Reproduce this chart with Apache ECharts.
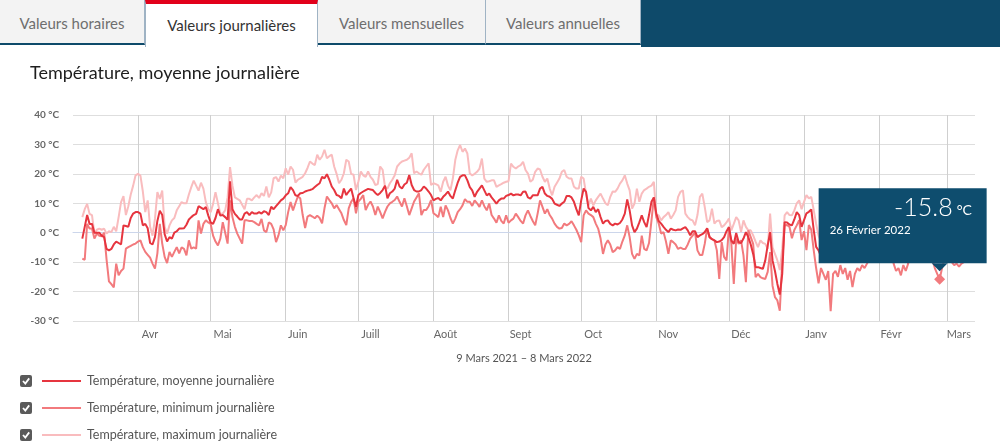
<!DOCTYPE html>
<html>
<head>
<meta charset="utf-8">
<script src="https://cdn.jsdelivr.net/npm/echarts@6/dist/echarts.min.js"></script>
<style>
  html, body { margin: 0; padding: 0; background: #fff; }
  #wrap { position: relative; width: 1000px; height: 448px; overflow: hidden; font-family: Lato, "Noto Sans", sans-serif; }
  #chart { position: absolute; left: 0; top: 0; width: 1000px; height: 448px; }
  .tab { position: absolute; top: 0; height: 45px; line-height: 46px; background: #f3f3f3; color: #6e6e6e;
         font-size: 15px; text-align: center; box-sizing: border-box; border-right: 1px solid #9fb3c4;
         border-bottom: 2px solid #0e4a6a; z-index: 2; }
  .tab.active { background: #fff; color: #333; border-top: 4px solid #e2001a; border-bottom: none; height: 47px; line-height: 42px;
         border-left: 1px solid #9fb3c4; }
  .bar { position: absolute; top: 0; height: 47px; background: #0e4a6a; z-index: 2; }
</style>
</head>
<body>
<div id="wrap">
  <div id="chart"></div>
  <div class="tab" style="left:0;width:145px;">Valeurs horaires</div>
  <div class="tab active" style="left:145px;width:173px;">Valeurs journalières</div>
  <div class="tab" style="left:318px;width:168px;">Valeurs mensuelles</div>
  <div class="tab" style="left:486px;width:155px;">Valeurs annuelles</div>
  <div class="bar" style="left:641px;width:359px;"></div>
</div>
<script>
// ---------- data ----------
const startDate = [2021, 2, 9];            // 9 Mars 2021 (day index 0)
const rangeLabel = '9 Mars 2021 – 8 Mars 2022';
const chartTitle = 'Température, moyenne journalière';
const monthTicks = [23, 53, 84, 114, 145, 176, 206, 237, 267, 298, 329, 357];
const monthLabels = ['Avr', 'Mai', 'Juin', 'Juill', 'Août', 'Sept', 'Oct', 'Nov', 'Déc', 'Janv', 'Févr', 'Mars'];
const frMonths = ['Janvier', 'Février', 'Mars', 'Avril', 'Mai', 'Juin', 'Juillet', 'Août', 'Septembre', 'Octobre', 'Novembre', 'Décembre'];
const seriesNames = ['Température, moyenne journalière', 'Température, minimum journalière', 'Température, maximum journalière'];
const highlightIndex = 354;   // 26 Février 2022, minimum series

const meanT = [
  -2, 2, 6, 3, 3, 0, 0, 0, -1, -1.5,
  -5.5, -6, -5.5, -4, -3, -3.5, -4, 2.5, 2.3, 2,
  5, 6.5, 7, 7, 6.5, 2.5, 3, 1.5, -3.5, -4,
  -1.5, 4, 7.5, 6, -0.5, -3, -1.5, -2, 0, 0.5,
  1.4, 1.4, 1.5, 2.7, 4.5, 5.3, 6, 6.4, 9, 8.5,
  8, 8.7, 5.9, 3.5, 3, 5, 8, 5.8, 6, 5.3,
  4.4, 17.5, 8, 6.4, 5.5, 4.5, 4.5, 6.5, 7, 6,
  7, 6.5, 6.5, 7, 6.5, 7.3, 7, 6, 8.8, 8,
  9, 10, 11, 11.6, 12.7, 13.4, 15.5, 14.5, 12.7, 12.5,
  13.4, 13.5, 14, 14.3, 14.5, 14.8, 15.5, 16.2, 16.8, 19,
  18.5, 19.9, 18, 15.7, 14.5, 12.8, 12.5, 11.7, 15, 12.8,
  14, 15, 11.7, 8.8, 12.8, 13.5, 14, 14.5, 14.9, 14.7,
  14.5, 13.5, 12.8, 13.5, 14.5, 16, 11.7, 13.4, 14, 15,
  18, 15.7, 15, 16.4, 17, 19.6, 16.2, 14.5, 14, 14,
  14.5, 15.7, 15, 14, 12.8, 11, 11.5, 11.8, 11, 12.2,
  13, 14, 12.5, 11.6, 14.4, 17, 19, 19.5, 19.5, 17.8,
  15.5, 14.4, 12.2, 13.9, 15, 16.1, 14.4, 12.7, 13.3, 12,
  11, 9.9, 11, 11.6, 11.6, 12.5, 12.8, 13.3, 12.7, 13,
  13, 12.7, 13.9, 14, 12, 11.6, 12.7, 12.7, 12.7, 15,
  15.6, 13.3, 12.5, 12.2, 11.5, 9.9, 9.5, 9.1, 9.9, 10.5,
  12.5, 12.5, 12, 10.5, 8, 5.9, 11, 15, 13.9, 8.4,
  7.6, 8.8, 7, 8, 5.3, 3.1, 4, 4.2, 3, 2.5,
  3.1, 2.8, 3.3, 4.5, 6.5, 11.3, 7.6, 2.5, 0.2, 1.4,
  3.5, 5.9, 3.6, 1.9, 6, 10.5, 12, 6.5, 4, 3.1,
  2, 1, 0.2, 1.4, 1, 0.8, 1.1, 1, 1.5, 1.9,
  0.8, -0.9, 0.5, 0.5, -1.5, -0.9, -0.5, 0.2, 1.5, -1.5,
  -2.2, -2.6, -3.2, -3, -2.5, -1.5, 0.5, 1.9, -2.6, -3.8,
  -0.1, -3.2, -3.5, -2, 0.2, -1.5, -4, -7.2, -11.7, -11.7,
  -12, -12.3, -9.4, -4.3, 0.2, -9.4, -13, -17.4, -21, -14,
  3.6, 3.5, 2.8, 2.5, 4.5, 7, 6, 2, 4.3, 6.6,
  7.1, 7.9, 1, -4.8, -6, -8, -5, -7, -8, -9,
  -6, -4, -6, -8, -5, -3, -5, -7, -6, -8,
  -9, -6, -4, -5, -3, -2, -4, -5, -3, -1,
  -2, -4, -3, -1, -3, -6, -7, -5, -6, -8,
  -7, -4, -2, -3, -1, 0, -2, -4, -3, -5,
  -6, -4, -7, -9, -9.5, -7, -5, -4, -6, -5,
  -3, -4, -6, -5, -4
];

const minT = [
  -8.8, -9.2, 3, 1.4, 1.4, -2, -0.3, -1, -1.2, 0,
  -9, -16.5, -17.5, -18.6, -10.5, -14.5, -13, -12.2, -5.4, -4.9,
  -4.5, -4, -3.7, -3, -2.6, -4.9, -6.5, -7.5, -8.5, -10.5,
  -12.2, -7, 3, -3.7, -8.2, -10.3, -6.5, -8.2, -6.5, -4.9,
  -7, -5, -5.5, -7.7, -2.6, -5.4, -5, -5.4, 4.2, -0.3,
  3, 4.2, 3.5, 3, -1, -3, -4.3, -2, 3.6, 0,
  -3.7, 11, 5.3, 2, -0.3, -2, -3.7, 4.2, 4.2, 4,
  4, 3.6, 3, 2.5, 4.7, 0.8, 0.2, 3.5, 3, 1.1,
  -3.2, -0.9, 2.5, 0.8, 2.6, 7, 10.4, 7.6, 10, 12.3,
  11.7, 6, 1.6, 5.5, 6, 5.5, 4.9, 5.8, 5, 3.2,
  8.3, 12.3, 11.1, 10, 8.3, 9.4, 8, 6.6, 4.3, 2.6,
  8.3, 10.5, 11.7, 6.6, 10.6, 11.5, 12.8, 7.7, 9.5, 10.6,
  8.9, 6, 8.9, 7, 4.9, 7.1, 8.9, 10, 10.5, 11.1,
  12.3, 10.5, 8.9, 11.7, 9, 6, 8.3, 10.6, 12, 13.4,
  6, 7.7, 7.7, 9, 11.1, 6.6, 6, 5.3, 8.8, 5.3,
  9.3, 7.6, 5, 3.1, 4.8, 7, 8, 9.3, 11.4, 10.5,
  10.5, 9.1, 11, 10, 8.8, 11, 9, 7.6, 9.9, 6,
  4.8, 3.4, 5.9, 4, 3.1, 5.9, 3.4, 4.2, 4.8, 6.5,
  5.3, 4, 3.1, 5.9, 7.6, 5.7, 4, 2.5, 6.5, 11,
  8.8, 6.5, 8, 6, 4.8, 3.1, 2, 1.4, 1.6, 3.1,
  2.5, 3, 3.9, 2.5, 1, -0.9, -3.2, 5.9, 7.6, 6.5,
  6, 5.3, 3.1, 1.4, -2, -7.2, -4, -2.6, -4, -6.6,
  -6, -4.9, -5.5, -3, -0.9, 2.5, -1.5, -7.2, -8.9, -7.2,
  -7.7, -1, -5.5, -6, -3.5, 4, 12, 5.3, 3.1, -0.3,
  0.2, -3, -7.2, -2.6, -3.2, -4, -5.5, -5.1, -5.5, -5.5,
  -4, -2, -1, 0.2, -6, -7.6, -7.6, -3.8, 1.4, -1.5,
  -2.2, -2.6, -6, -15.7, -3.2, -8.2, -9.4, 1.9, -3.8, -17.4,
  -2, -3.8, -2.6, -7.7, -16.8, 0.8, -1.5, -3.8, -15.1, -14,
  -15.1, -15.5, -15.7, -13.3, -6.6, -18, -21.9, -23, -26.5, -10,
  2.5, 2.6, 2, -1.9, 0.9, 2.5, 4.3, -2.5, 0.5, -5.9,
  2.6, 1, -5.9, -12, -17.2, -12, -14, -16, -13, -26.7,
  -14, -13, -15, -11, -14, -12, -16, -13, -18.5, -14,
  -12, -13, -11, -12, -10.5, -9, -8, -7, -9, -7,
  -8, -6, -5, -4, -7, -10.5, -13, -12, -14.5, -11,
  -13, -10.5, -7, -6, -5, -4, -6, -8, -7, -9,
  -8, -9, -12, -14, -15.8, -12, -9, -8, -9, -10,
  -11, -10.5, -11.5, -10.5, -10
];

const maxT = [
  5.3, 8, 9.8, 6.4, 6, -0.3, 1, 1.4, 1, 1.4,
  -0.3, 0.5, 0.2, 2, 0.5, 5.3, 10.4, 12.4, 6, 9,
  13, 16, 19.5, 20, 19.4, 14, 7, 11, 2, -1,
  4.7, 13.8, 11.5, 14.3, 2, -0.3, 2.5, 4.2, 5, 7.6,
  9, 10.4, 10, 10, 13, 15.5, 17.7, 16, 14.3, 17,
  15, 10.4, 8, 7, 9.8, 13.8, 10, 6.4, 6.5, 7.6,
  12, 22.3, 16, 12, 11.5, 11, 9.5, 8, 11.5, 11.5,
  11, 12, 12.8, 11.8, 13.4, 12.5, 15.7, 12, 13.7, 18.5,
  18.9, 17.4, 19.4, 18.5, 21.9, 19.7, 22.5, 21.4, 17, 18,
  18.5, 19, 20.2, 22, 24.2, 23.5, 23, 26.5, 24.8, 25.9,
  28.2, 25.3, 26, 26.5, 22.5, 20, 16.8, 18, 20.2, 24.8,
  24.2, 20, 19.7, 14.5, 17.4, 20.8, 19.5, 19, 20.8, 19,
  18, 16.2, 16.5, 22.5, 21.4, 15.5, 15, 16.8, 18, 19.5,
  22.5, 23.5, 24.2, 24.5, 24.8, 25.5, 27, 20.2, 20.8, 20.2,
  19.7, 21.4, 22.5, 23.6, 16.2, 16.8, 16.5, 16.1, 13.9, 17.3,
  19, 16, 14.4, 18.4, 24.7, 28, 29.8, 27.5, 28.6, 26.9,
  20.1, 19.5, 20, 20.7, 21.8, 25.2, 18.4, 17.3, 17.5, 17.8,
  17.8, 15.6, 16.1, 16.5, 17, 17.3, 17.5, 23.5, 22.4, 21.8,
  22.5, 23, 24.1, 21.3, 20.1, 17.3, 18, 20.7, 21.8, 21.5,
  19, 17.3, 18.4, 15, 12.7, 15.6, 17, 18.4, 20.7, 21.3,
  19, 18.4, 18.4, 15.6, 15, 15, 19, 18.4, 13.3, 9.3,
  11.6, 9.3, 11, 12.2, 13.3, 11.6, 10, 9.3, 12.2, 14,
  13.9, 15, 16.7, 17.8, 19.5, 16.7, 14.4, 8.2, 9.9, 15,
  10.5, 13.3, 14.5, 15, 15.6, 16, 17.3, 6, 5.9, 4.2,
  5.3, 6, 7, 4.8, 6, 7.6, 12.2, 13.9, 14.4, 6.5,
  5.3, 4.5, 4.2, 2.5, 6, 12.2, 13.3, 8.8, 3.6, 4.2,
  8.2, 3.1, 4, 4.2, 1.9, 2.5, 3.5, 4.8, 0.8, 3,
  5.3, 4.2, 0.2, 4.2, 2, 0.8, 0.8, -0.9, -3, -4.9,
  -2.6, -3.5, -3.8, -5.5, 6.5, -5, -7.2, -9.4, -12.7, -5.5,
  5.9, 7, 6, 5.9, 7.6, 10, 11, 8, 10.5, 12.8,
  11.7, 12.2, 7.7, 3, -1, -3, 1, -2, -4, -6,
  0, 2, 0, -2, 1, 4, 1, -1, 0, -2,
  -3, 0, 3, 1, 4, 5, 2, 1, 3, 5,
  4, 2, 3, 6, 3, 0, -1, 1, 0, -2,
  -1, 2, 5, 3, 6, 7, 4, 2, 3, 1,
  0, 2, -1, -3, -4, -1, 1, 3, 0, 1,
  4, 2, 0, 1, 2
];

// ---------- chart ----------
const FONT = 'Lato, "Noto Sans", sans-serif';
const colMean = '#e6353f', colMin = '#f27a7d', colMax = '#f9bcbe';
const toPairs = arr => arr.map((v, i) => [i, v]);
const legendRows = [381, 408, 435];

const chart = echarts.init(document.getElementById('chart'), null, { renderer: 'canvas' });

const legends = seriesNames.map((nm, k) => ({
  orient: 'vertical', left: 42, top: legendRows[k] - 7, padding: 0,
  itemWidth: 39, itemHeight: 2, icon: 'rect', selectedMode: false,
  data: [nm],
  textStyle: { fontFamily: FONT, fontSize: 12.5, color: '#555', lineHeight: 14, padding: [0, 0, 0, 1] }
}));

const option = {
  animation: false,
  textStyle: { fontFamily: FONT },
  title: {
    text: chartTitle, left: 30, top: 64, padding: 0,
    textStyle: { fontFamily: FONT, fontSize: 18, fontWeight: 'normal', color: '#1e1e1e' }
  },
  grid: { left: 73, right: 25, top: 115, bottom: 127, containLabel: false },
  xAxis: {
    type: 'value', min: -3.84, max: 368.6,
    name: rangeLabel, nameLocation: 'middle', nameGap: 32,
    nameTextStyle: { fontFamily: FONT, fontSize: 11, color: '#555' },
    axisLine: { show: true, lineStyle: { color: '#ccd6eb', width: 1 } },
    axisTick: { show: false, customValues: monthTicks },
    splitLine: { show: true, lineStyle: { color: '#cfcfcf', width: 1 } },
    axisLabel: {
      customValues: monthTicks, align: 'center', padding: [0, 0, 0, 24], margin: 8,
      fontFamily: FONT, fontSize: 11, color: '#666',
      formatter: v => { const k = monthTicks.indexOf(Math.round(v)); return k >= 0 ? monthLabels[k] : ''; }
    }
  },
  yAxis: {
    type: 'value', min: -30, max: 40, interval: 10,
    axisLine: { show: false }, axisTick: { show: false },
    splitLine: { lineStyle: { color: '#dedede', width: 1 } },
    axisLabel: { formatter: '{value} °C', margin: 14, fontFamily: FONT, fontSize: 10, fontWeight: 'bold', color: '#666' }
  },
  legend: legends,
  series: [
    { name: seriesNames[2], type: 'line', data: toPairs(maxT), showSymbol: false, color: colMax,
      lineStyle: { width: 2, color: colMax }, z: 2 },
    { name: seriesNames[1], type: 'line', data: toPairs(minT), showSymbol: false, color: colMin,
      lineStyle: { width: 2, color: colMin }, z: 3,
      markPoint: {
        symbol: 'diamond', symbolSize: 11, silent: true,
        itemStyle: { color: colMin }, label: { show: false },
        data: [{ coord: [highlightIndex, minT[highlightIndex]] }]
      } },
    { name: seriesNames[0], type: 'line', data: toPairs(meanT), showSymbol: false, color: colMean,
      lineStyle: { width: 2, color: colMean }, z: 4 }
  ]
};
chart.setOption(option);

// checkboxes + tooltip box
const graphics = [];
legendRows.forEach(cy => {
  graphics.push({ type: 'rect', shape: { x: 20, y: cy - 6, width: 12, height: 12, r: 2 }, style: { fill: '#5a5a5a' }, z: 10 });
  graphics.push({ type: 'polyline', shape: { points: [[23, cy], [25.3, cy + 2.6], [29.2, cy - 2.6]] },
                  style: { stroke: '#fff', lineWidth: 1.8, fill: null }, z: 11 });
});

const pt = chart.convertToPixel({ gridIndex: 0 }, [highlightIndex, minT[highlightIndex]]);
const d = new Date(startDate[0], startDate[1], startDate[2] + highlightIndex);
const dateText = d.getDate() + ' ' + frMonths[d.getMonth()] + ' ' + d.getFullYear();
const bx = pt[0] - 121, by = pt[1] - 91;
graphics.push({ type: 'rect', shape: { x: bx, y: by, width: 168, height: 75 }, style: { fill: '#0e4d6e' }, z: 20 });
graphics.push({ type: 'polygon', shape: { points: [[pt[0] - 8, by + 75], [pt[0] + 8, by + 75], [pt[0], by + 83]] }, style: { fill: '#0e4d6e' }, z: 20 });
graphics.push({ type: 'text', x: pt[0] + 13, y: by + 20, z: 21,
  style: { text: minT[highlightIndex].toFixed(1), fill: '#fff', font: '300 25px ' + FONT, align: 'right', verticalAlign: 'middle' } });
graphics.push({ type: 'text', x: pt[0] + 17, y: by + 22, z: 21,
  style: { text: '°C', fill: '#fff', font: '14px ' + FONT, align: 'left', verticalAlign: 'middle' } });
graphics.push({ type: 'text', x: bx + 11, y: by + 42, z: 21,
  style: { text: dateText, fill: '#fff', font: '11.5px ' + FONT, align: 'left', verticalAlign: 'middle' } });

chart.setOption({ graphic: graphics });
</script>
</body>
</html>
